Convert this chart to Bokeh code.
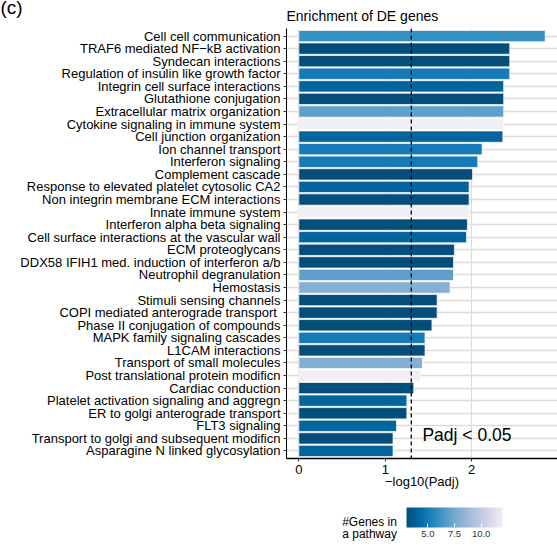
import numpy as np
from bokeh.plotting import figure
from bokeh.models import (Range1d, FactorRange, Span, Label, ColorBar,
                          LinearColorMapper, FixedTicker, ColumnDataSource)
from bokeh.embed import file_html
from bokeh.resources import INLINE

# Reactome pathways enriched among DE genes, top to bottom
pathways = [
    "Cell cell communication",
    "TRAF6 mediated NF\u2212kB activation",
    "Syndecan interactions",
    "Regulation of insulin like growth factor",
    "Integrin cell surface interactions",
    "Glutathione conjugation",
    "Extracellular matrix organization",
    "Cytokine signaling in immune system",
    "Cell junction organization",
    "Ion channel transport",
    "Interferon signaling",
    "Complement cascade",
    "Response to elevated platelet cytosolic CA2",
    "Non integrin membrane ECM interactions",
    "Innate immune system",
    "Interferon alpha beta signaling",
    "Cell surface interactions at the vascular wall",
    "ECM proteoglycans",
    "DDX58 IFIH1 med. induction of interferon a/b",
    "Neutrophil degranulation",
    "Hemostasis",
    "Stimuli sensing channels",
    "COPI  mediated anterograde transport",
    "Phase II conjugation of compounds",
    "MAPK family signaling cascades",
    "L1CAM interactions",
    "Transport of small molecules",
    "Post translational protein modificn",
    "Cardiac conduction",
    "Platelet activation signaling and aggregn",
    "ER to golgi anterograde transport",
    "FLT3 signaling",
    "Transport to golgi and subsequent modificn",
    "Asparagine N linked glycosylation",
]

neg_log10_padj = [
    2.85, 2.44, 2.44, 2.44, 2.37, 2.37, 2.37, 2.37, 2.36, 2.12,
    2.07, 2.01, 1.97, 1.97, 1.97, 1.95, 1.94, 1.80, 1.79, 1.79,
    1.75, 1.60, 1.60, 1.54, 1.46, 1.46, 1.43, 1.41, 1.33, 1.25,
    1.25, 1.13, 1.09, 1.09,
]

n_genes = [
    6, 3, 3, 5, 4, 3, 7, 12, 4, 5,
    5, 3, 4, 3, 12, 3, 4, 3, 3, 7,
    8, 3, 3, 3, 5, 3, 8, 12, 3, 4,
    3, 4, 3, 4,
]

x_ticks = [0, 1, 2]
legend_ticks = [5.0, 7.5, 10.0]
genes_low, genes_high = 3, 12
padj_cutoff = 0.05

FONT = "Liberation Sans"

# PuBu ramp, dark for few genes -> pale for many genes, smoothed to 256 steps
pubu = ["#034e7b", "#0570b0", "#3690c0", "#74a9cf", "#a6bddb", "#d0d1e6", "#f1eef6"]
rgb = np.array([[int(h[i:i + 2], 16) for i in (1, 3, 5)] for h in pubu], dtype=float)
t_base = np.linspace(0, 1, len(pubu))
t_fine = np.linspace(0, 1, 256)
ramp = np.stack([np.interp(t_fine, t_base, rgb[:, k]) for k in range(3)], axis=1)
palette = ["#%02x%02x%02x" % tuple(int(round(v)) for v in row) for row in ramp]
mapper = LinearColorMapper(palette=palette, low=genes_low, high=genes_high)

src = ColumnDataSource(dict(pathway=pathways, score=neg_log10_padj, genes=n_genes))

x_start = -0.05 * max(neg_log10_padj)
x_end = max(neg_log10_padj) * 1.05
p = figure(
    width=557, height=556,
    y_range=FactorRange(factors=pathways[::-1], range_padding=0.1,
                        range_padding_units="absolute"),
    x_range=Range1d(x_start, x_end),
    output_backend="svg", toolbar_location=None,
    min_border_left=286, min_border_right=0,
    min_border_top=28, min_border_bottom=98,
    title="Enrichment of DE genes",
)
p.outline_line_color = None
p.background_fill_color = "white"

p.title.text_font = FONT
p.title.text_font_size = "14px"
p.title.text_font_style = "normal"
p.title.text_color = "black"
p.title.align = "left"
p.title.standoff = 10

p.hbar(y="pathway", left=0, right="score", height=0.9, source=src,
       fill_color={"field": "genes", "transform": mapper},
       line_color="white", line_width=0.7)

# significance threshold
p.add_layout(Span(location=-np.log10(padj_cutoff), dimension="height",
                  line_color="black", line_dash="4 3", line_width=1.3))
p.add_layout(Label(x=1.43, y=1.78, text="Padj < 0.05", text_font=FONT,
                   text_font_size="17.5px", text_baseline="middle",
                   text_color="black"))

# axes
p.xaxis.ticker = FixedTicker(ticks=x_ticks)
p.xaxis.axis_label = "\u2212log10(Padj)"
p.xaxis.axis_label_text_font = FONT
p.xaxis.axis_label_text_font_size = "13px"
p.xaxis.axis_label_text_font_style = "normal"
p.xaxis.axis_label_text_color = "black"
p.xaxis.axis_label_standoff = -3
p.xaxis.major_label_text_font = FONT
p.xaxis.major_label_text_font_size = "13px"
p.xaxis.major_label_text_color = "black"
p.xaxis.major_label_standoff = 3
p.xaxis.axis_line_color = "black"
p.xaxis.axis_line_width = 1.3
p.xaxis.major_tick_line_color = "#333333"
p.xaxis.major_tick_out = 3
p.xaxis.major_tick_in = 0
p.xaxis.minor_tick_line_color = None

p.yaxis.major_label_text_font = FONT
p.yaxis.major_label_text_font_size = "13px"
p.yaxis.major_label_text_color = "black"
p.yaxis.major_label_standoff = 3
p.yaxis.axis_line_color = "black"
p.yaxis.axis_line_width = 1
p.yaxis.major_tick_line_color = "#333333"
p.yaxis.major_tick_out = 3
p.yaxis.major_tick_in = 0

p.xgrid.grid_line_color = "#dcdcdc"
p.xgrid.grid_line_width = 1.2
p.ygrid.grid_line_color = "#dcdcdc"
p.ygrid.grid_line_width = 1.3

# colour legend for gene counts
cbar = ColorBar(color_mapper=mapper, orientation="horizontal",
                width=96, height=20, location=(120, -81),
                ticker=FixedTicker(ticks=legend_ticks),
                major_label_overrides={5.0: "5.0", 7.5: "7.5", 10.0: "10.0"},
                major_label_text_font=FONT, major_label_text_font_size="9.5px",
                major_label_text_color="#333333",
                major_tick_line_color="white", major_tick_in=4, major_tick_out=0,
                label_standoff=3, padding=0, bar_line_color=None,
                border_line_color=None, background_fill_alpha=0)
p.add_layout(cbar)

# legend caption, placed in the bottom margin
for txt, up in [("#Genes in", -16.4), ("a pathway", -14.0)]:
    p.add_layout(Label(x=55.7, y=up, x_units="screen", y_units="screen",
                       text=txt, text_font=FONT, text_font_size="12px",
                       text_baseline="middle", text_color="black"), "below")

# panel tag at the top-left corner of the page
p.add_layout(Label(x=-286, y=523, x_units="screen", y_units="screen",
                   text="(c)", text_font=FONT, text_font_size="19px",
                   text_color="black"), "below")

open("out.html", "w").write(file_html(p, INLINE))
